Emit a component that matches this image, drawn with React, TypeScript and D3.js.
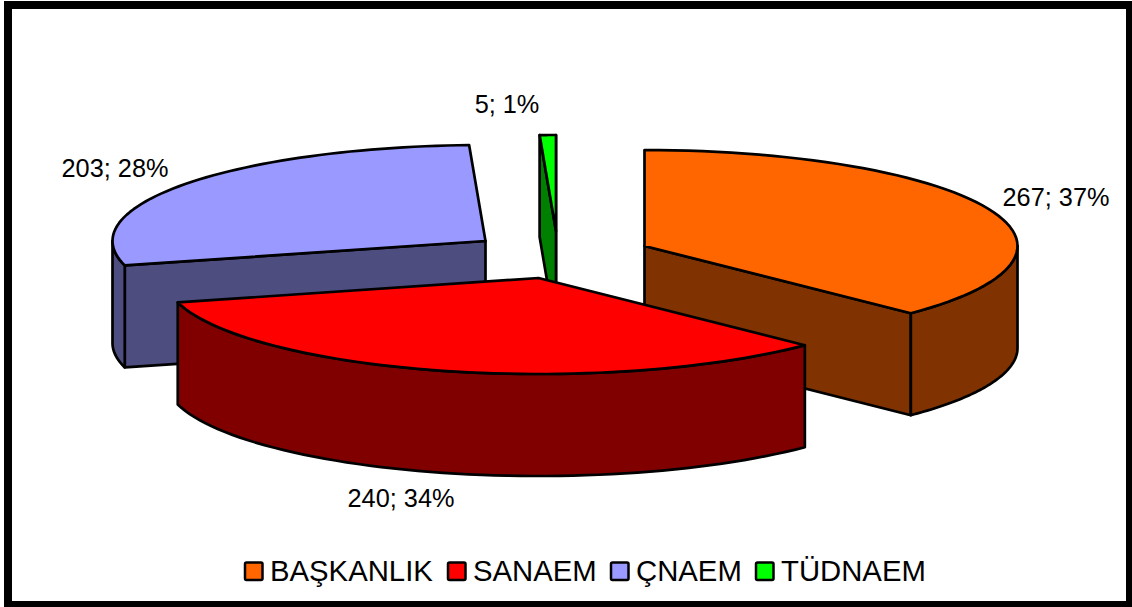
import React from 'react';
import * as d3 from 'd3';

const categories = ['BAŞKANLIK', 'SANAEM', 'ÇNAEM', 'TÜDNAEM'];
const values = [267, 240, 203, 5];
const percents = [37, 34, 28, 1];

const topColors = ['#FF6600', '#FF0000', '#9999FF', '#00FF00'];
const sideColors = ['#803300', '#800000', '#4D4D80', '#008000'];

// where each exploded slice has its tip, and where its label sits
const apexes = [[644.5, 246], [538.5, 278], [485.5, 241], [556, 231]];
const labelPos = [[1056, 206], [401, 507], [115, 177], [507, 113]];
const legendX = [245, 448, 611, 756];

const WIDTH = 1132;
const HEIGHT = 607;
const RX = 373;
const RY = 96;
const DEPTH = 102;
const FONT = '"Liberation Sans", Arial, sans-serif';

const pie = d3.pie<number>().sort(null).value((d) => d);
const line = d3.line();

type Pt = [number, number];

const App = () => {
  const slices = pie(values);
  // painter's order: the back slices first, the front slice last
  const drawOrder = [3, 2, 0, 1];

  const project = (i: number, a: number, drop = 0): Pt => [
    apexes[i][0] + RX * Math.sin(a),
    apexes[i][1] - RY * Math.cos(a) + drop,
  ];

  const arcPoints = (i: number, a0: number, a1: number, drop = 0): Pt[] =>
    d3.range(0, 61).map((k) => project(i, a0 + ((a1 - a0) * k) / 60, drop));

  return (
    <svg
      width={WIDTH}
      height={HEIGHT}
      style={{ position: 'absolute', left: 0, top: 0, display: 'block', background: '#fff' }}
    >
      {/* frame: black plate with the white chart area on top */}
      <rect x={4} y={1} width={1128} height={606} fill="#000" />
      <rect x={12} y={9} width={1114} height={592} fill="#fff" />

      {drawOrder.map((i) => {
        const s = slices[i];
        const apex = apexes[i] as Pt;
        const dropped: Pt = [apex[0], apex[1] + DEPTH];
        const stroke = { stroke: '#000', strokeWidth: 2.7, strokeLinejoin: 'round' as const };

        // the rim only shows on the half of the ellipse facing the viewer
        const wallFrom = Math.max(s.startAngle, Math.PI / 2);
        const wallTo = Math.min(s.endAngle, (3 * Math.PI) / 2);
        const wall =
          wallFrom < wallTo
            ? [...arcPoints(i, wallFrom, wallTo), ...arcPoints(i, wallTo, wallFrom, DEPTH)]
            : null;

        // cut faces that turn towards the viewer
        const faces: Pt[][] = [];
        if (Math.sin(s.endAngle) > 0) {
          const p = project(i, s.endAngle);
          faces.push([apex, p, [p[0], p[1] + DEPTH], dropped]);
        }
        if (Math.sin(s.startAngle) < 0) {
          const p = project(i, s.startAngle);
          faces.push([apex, p, [p[0], p[1] + DEPTH], dropped]);
        }

        const top = [apex, ...arcPoints(i, s.startAngle, s.endAngle)];

        return (
          <g key={categories[i]}>
            {faces.map((f, k) => (
              <path key={k} d={line(f) + 'Z'} fill={sideColors[i]} {...stroke} />
            ))}
            {wall && <path d={line(wall) + 'Z'} fill={sideColors[i]} {...stroke} />}
            <path d={line(top as Pt[]) + 'Z'} fill={topColors[i]} {...stroke} />
          </g>
        );
      })}

      {values.map((v, i) => (
        <text
          key={i}
          x={labelPos[i][0]}
          y={labelPos[i][1]}
          textAnchor="middle"
          fontFamily={FONT}
          fontSize={25.3}
          fill="#000"
        >
          {`${v}; ${percents[i]}%`}
        </text>
      ))}

      {categories.map((c, i) => (
        <g key={c}>
          <rect
            x={legendX[i]}
            y={562.5}
            width={17.5}
            height={17.5}
            rx={1.5}
            fill={topColors[i]}
            stroke="#000"
            strokeWidth={2.5}
          />
          <text x={legendX[i] + 25} y={581} fontFamily={FONT} fontSize={29.3} fill="#000">
            {c}
          </text>
        </g>
      ))}
    </svg>
  );
};

export default App;
